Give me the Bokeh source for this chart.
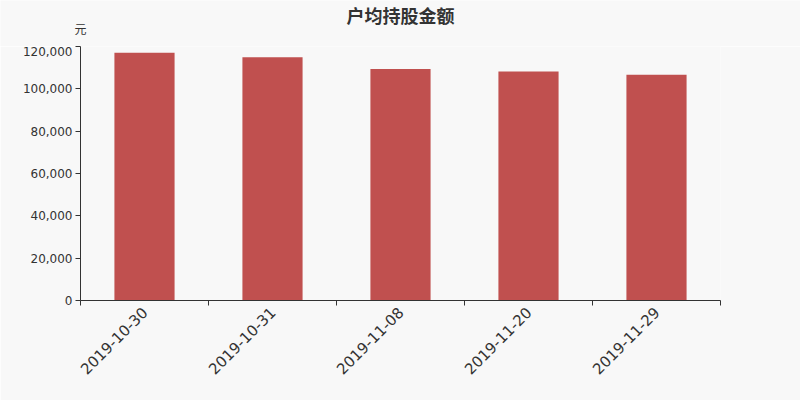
import math
from bokeh.plotting import figure
from bokeh.layouts import column
from bokeh.models import Range1d, FixedTicker, NumeralTickFormatter, ColumnDataSource
from bokeh.core.properties import value
from bokeh.embed import file_html
from bokeh.resources import INLINE

categories = ["2019-10-30", "2019-10-31", "2019-11-08", "2019-11-20", "2019-11-29"]
values = [117100, 114900, 109400, 108200, 106700]
y_ticks = [0, 20000, 40000, 60000, 80000, 100000, 120000]
title_text = "户均持股金额"
unit_text = "元"

BG = "#f8f8f8"
TXT = "#333333"
BAR = "#c0504f"

HEAD_H = 46

# header with title and unit label
head = figure(width=800, height=HEAD_H, output_backend="svg", toolbar_location=None,
              x_range=Range1d(0, 800), y_range=Range1d(0, HEAD_H),
              x_axis_location=None, y_axis_location=None,
              min_border_left=0, min_border_right=0, min_border_top=0, min_border_bottom=0)
head.frame_align = False
head.background_fill_color = BG
head.border_fill_color = BG
head.outline_line_color = None
head.xgrid.visible = False
head.ygrid.visible = False
head.text(x=[400], y=[HEAD_H - 14], text=[title_text], text_align="center", text_baseline="middle",
          text_font=value("Noto Sans CJK SC"), text_font_size="18px",
          text_font_style="bold", text_color=TXT)
head.text(x=[80], y=[HEAD_H - 28], text=[unit_text], text_align="center", text_baseline="middle",
          text_font=value("Noto Sans CJK SC"), text_font_size="12px", text_color=TXT)

xs = [i + 0.5 for i in range(len(categories))]
src = ColumnDataSource(dict(x=xs, top=values, cat=categories))

p = figure(width=800, height=400 - HEAD_H, output_backend="svg", toolbar_location=None,
           x_range=Range1d(0, len(categories)), y_range=Range1d(0, 120000),
           min_border_left=80, min_border_right=80, min_border_top=0, min_border_bottom=100)
p.frame_align = False
p.background_fill_color = BG
p.border_fill_color = BG
p.outline_line_color = None
p.xgrid.visible = False
p.ygrid.visible = False

p.vbar(x="x", top="top", width=0.47, source=src, fill_color=BAR, line_color=None)

xa = p.xaxis[0]
xa.ticker = FixedTicker(ticks=xs, minor_ticks=list(range(len(categories) + 1)))
xa.major_label_overrides = {x: c for x, c in zip(xs, categories)}
xa.major_tick_out = 0
xa.major_tick_in = 0
xa.minor_tick_out = 5
xa.minor_tick_in = 0
xa.minor_tick_line_color = TXT
xa.axis_line_color = TXT
xa.major_label_orientation = math.pi / 4
xa.major_label_text_font = "DejaVu Sans"
xa.major_label_text_font_size = "15px"
xa.major_label_text_color = TXT
xa.major_label_standoff = 4

ya = p.yaxis[0]
ya.ticker = FixedTicker(ticks=y_ticks)
ya.formatter = NumeralTickFormatter(format="0,0")
ya.major_tick_out = 5
ya.major_tick_in = 0
ya.minor_tick_line_color = None
ya.major_tick_line_color = TXT
ya.axis_line_color = TXT
ya.major_label_text_font = "DejaVu Sans"
ya.major_label_text_font_size = "12px"
ya.major_label_text_color = TXT
ya.major_label_standoff = 3

layout = column(head, p, spacing=0)
html = file_html(layout, INLINE)
html = html.replace("<body>", '<body style="background:#f8f8f8;">', 1)
open("out.html", "w").write(html)
